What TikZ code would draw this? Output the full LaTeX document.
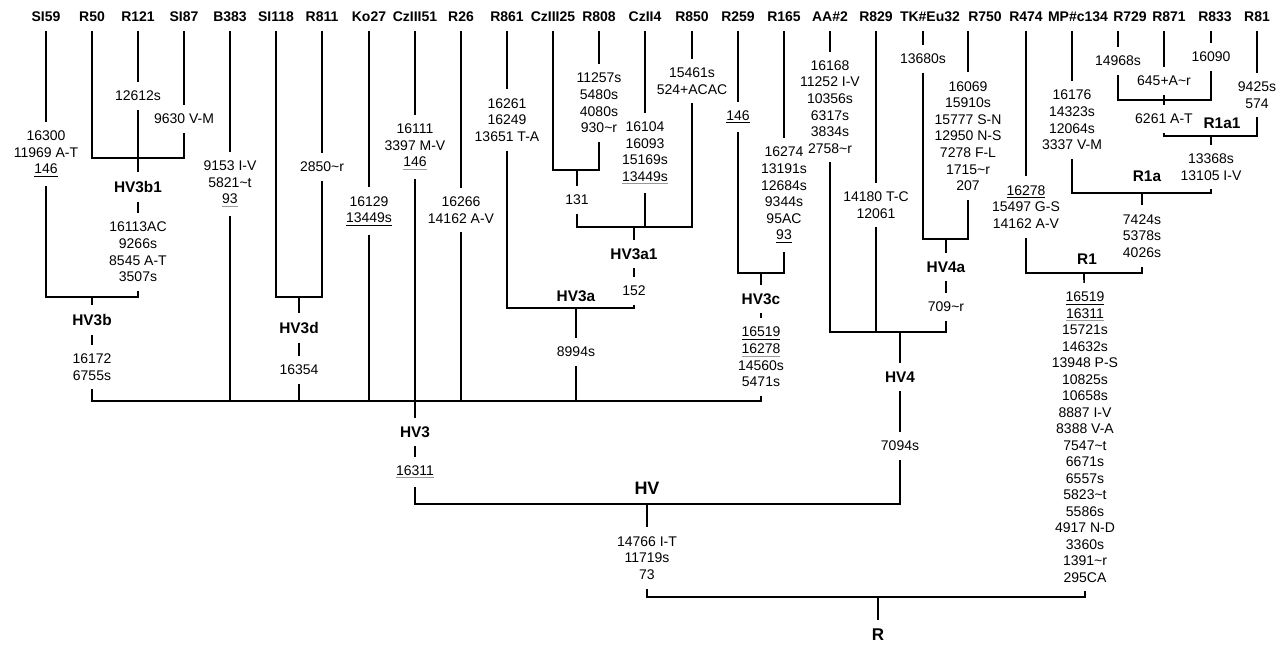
\documentclass[tikz,border=0pt]{standalone}
\usepackage{fontspec}
\setmainfont{Liberation Sans}
\usetikzlibrary{calc}
\newsavebox{\ulbox}
\newcommand{\ul}[2][black]{\sbox{\ulbox}{#2}\rlap{\textcolor{#1}{\rule[-1.5pt]{\wd\ulbox}{0.5pt}}}\usebox{\ulbox}}
\newcommand{\tl}{\textasciitilde}

\begin{document}
\begin{tikzpicture}[x=0.5pt,y=-0.5pt,line width=0.8pt,
  every node/.style={inner sep=2pt,outer sep=2.5pt},
  leaf/.style={font=\bfseries\fontsize{7}{8}\selectfont},
  clade/.style={font=\bfseries\fontsize{7.7}{9}\selectfont},
  mut/.style={align=center,font=\fontsize{7}{8.3}\selectfont}]
 \useasboundingbox (0,0) rectangle (1287,644);
 % sample names
 \node[leaf] (SI59) at (46,17) {SI59};
 \node[leaf] (R50) at (92,17) {R50};
 \node[leaf] (R121) at (138,17) {R121};
 \node[leaf] (SI87) at (184,17) {SI87};
 \node[leaf] (B383) at (230,17) {B383};
 \node[leaf] (SI118) at (276,17) {SI118};
 \node[leaf] (R811) at (322,17) {R811};
 \node[leaf] (Ko27) at (369,17) {Ko27};
 \node[leaf] (CzIII51) at (415,17) {CzIII51};
 \node[leaf] (R26) at (461,17) {R26};
 \node[leaf] (R861) at (507,17) {R861};
 \node[leaf] (CzIII25) at (553,17) {CzIII25};
 \node[leaf] (R808) at (599,17) {R808};
 \node[leaf] (CzII4) at (645,17) {CzII4};
 \node[leaf] (R850) at (692,17) {R850};
 \node[leaf] (R259) at (738,17) {R259};
 \node[leaf] (R165) at (784,17) {R165};
 \node[leaf] (AA2) at (830,17) {AA\#2};
 \node[leaf] (R829) at (876,17) {R829};
 \node[leaf] (TKEu32) at (930,17) {TK\#Eu32};
 \node[leaf] (R750) at (985,17) {R750};
 \node[leaf] (R474) at (1026,17) {R474};
 \node[leaf] (MPc134) at (1078,17) {MP\#c134};
 \node[leaf] (R729) at (1130,17) {R729};
 \node[leaf] (R871) at (1169,17) {R871};
 \node[leaf] (R833) at (1215,17) {R833};
 \node[leaf] (R81) at (1257,17) {R81};
 % branch points
 \coordinate (jHV3b1) at (138,158);
 \coordinate (jHV3b) at (92,297);
 \coordinate (jHV3d) at (299,297);
 \coordinate (j131) at (577,170);
 \coordinate (jHV3a1) at (634,227);
 \coordinate (jHV3a) at (576,308);
 \coordinate (jHV3c) at (761,273);
 \coordinate (jHV3) at (415,401);
 \coordinate (jHV4a) at (946,239);
 \coordinate (jHV4) at (900,332);
 \coordinate (jR871) at (1164,100);
 \coordinate (jR1a1) at (1211,136);
 \coordinate (jR1a) at (1142,193);
 \coordinate (jR1) at (1084,273);
 \coordinate (jHV) at (647,504);
 \coordinate (jR) at (878,597);
 % mutations and clade names
 \node[mut] (mSI59) at (46,154) {16300\\11969 A-T\\\ul{146}};
 \node[mut] (mR121) at (138,96) {12612s};
 \node[mut] (mSI87) at (184,119) {9630 V-M};
 \node[clade] (HV3b1) at (138,187) {HV3b1};
 \node[mut] (mHV3b1) at (138,252) {16113AC\\9266s\\8545 A-T\\3507s};
 \node[clade] (HV3b) at (92,320) {HV3b};
 \node[mut] (mHV3b) at (92,367) {16172\\6755s};
 \node[mut] (mB383) at (230,184) {9153 I-V\\5821\tl t\\\ul[black!40]{93}};
 \node[mut] (mR811) at (322,167) {2850\tl r};
 \node[clade] (HV3d) at (299,328) {HV3d};
 \node[mut] (mHV3d) at (299,370) {16354};
 \node[mut] (mKo27) at (369,211) {16129\\\ul{13449s}};
 \node[mut] (mCzIII51) at (415,147) {16111\\3397 M-V\\\ul[black!40]{146}};
 \node[clade] (HV3) at (415,432) {HV3};
 \node[mut] (mHV3) at (415,472) {\ul[black!40]{16311}};
 \node[mut] (mR26) at (461,210) {16266\\14162 A-V};
 \node[mut] (mR861) at (507,120) {16261\\16249\\13651 T-A};
 \node[mut] (mR808) at (599,103) {11257s\\5480s\\4080s\\930\tl r};
 \node[mut] (m131) at (577,200) {131};
 \node[mut] (mCzII4) at (645,153) {16104\\16093\\15169s\\\ul[black!40]{13449s}};
 \node[mut] (mR850) at (692,81) {15461s\\524+ACAC};
 \node[clade] (HV3a1) at (634,254) {HV3a1};
 \node[mut] (m152) at (634,291) {152};
 \node[clade] (HV3a) at (576,296) {HV3a};
 \node[mut] (mHV3a) at (576,352) {8994s};
 \node[mut] (mR259) at (738,117) {\ul{146}};
 \node[mut] (mR165) at (784,195) {16274\\13191s\\12684s\\9344s\\95AC\\\ul{93}};
 \node[clade] (HV3c) at (761,299) {HV3c};
 \node[mut] (mHV3c) at (761,357) {\ul{16519}\\\ul[black!40]{16278}\\14560s\\5471s};
 \node[mut] (mAA2) at (830,107) {16168\\11252 I-V\\10356s\\6317s\\3834s\\2758\tl r};
 \node[mut] (mR829) at (876,205) {14180 T-C\\12061};
 \node[mut] (mTKEu32) at (923,59) {13680s};
 \node[mut] (mR750) at (968,136) {16069\\15910s\\15777 S-N\\12950 N-S\\7278 F-L\\1715\tl r\\207};
 \node[clade] (HV4a) at (946,267) {HV4a};
 \node[mut] (mHV4a) at (946,307) {709\tl r};
 \node[clade] (HV4) at (900,377) {HV4};
 \node[mut] (mHV4) at (900,446) {7094s};
 \node[clade,font=\bfseries\fontsize{9}{10}\selectfont] (HV) at (647,488) {HV};
 \node[mut] (mHV) at (647,558) {14766 I-T\\11719s\\73};
 \node[mut] (mR474) at (1026,207) {\ul{16278}\\15497 G-S\\14162 A-V};
 \node[mut] (mMPc134) at (1072,120) {16176\\14323s\\12064s\\3337 V-M};
 \node[mut] (mR729) at (1118,61) {14968s};
 \node[mut] (mR871) at (1164,81) {645+A\tl r};
 \node[mut] (mR833) at (1211,57) {16090};
 \node[mut] (m6261) at (1164,119) {6261 A-T};
 \node[mut] (mR81) at (1257,95) {9425s\\574};
 \node[clade] (R1a1) at (1222,123) {R1a1};
 \node[mut] (mR1a1) at (1211,167) {13368s\\13105 I-V};
 \node[clade] (R1a) at (1147,176) {R1a};
 \node[mut] (mR1a) at (1142,236) {7424s\\5378s\\4026s};
 \node[clade] (R1) at (1087,259) {R1};
 \node[mut,font=\fontsize{7}{8.25}\selectfont] (mR1) at (1085,437)
   {\ul{16519}\\\ul[black!40]{16311}\\15721s\\14632s\\13948 P-S\\10825s\\10658s\\8887 I-V\\8388 V-A\\7547\tl t\\6671s\\6557s\\5823\tl t\\5586s\\4917 N-D\\3360s\\1391\tl r\\295CA};
 \node[clade,font=\bfseries\fontsize{8.5}{10}\selectfont] (R) at (878,635) {R};
 % HV3b
 \draw (SI59) -- (mSI59);
 \draw (R50) |- (jHV3b1) -| (mSI87);
 \draw (SI87) -- (mSI87);
 \draw (R121) -- (mR121);
 \draw (mR121) -- (HV3b1);
 \draw (HV3b1) -- (mHV3b1);
 \draw (mSI59) |- (jHV3b) -| (mHV3b1);
 \draw (jHV3b) -- (HV3b);
 \draw (HV3b) -- (mHV3b);
 % HV3d
 \draw (SI118) |- (jHV3d) -| (mR811);
 \draw (R811) -- (mR811);
 \draw (jHV3d) -- (HV3d);
 \draw (HV3d) -- (mHV3d);
 \draw (mHV3d) -- (mHV3d |- jHV3);
 % HV3a
 \draw (CzIII25) |- (j131) -| (mR808);
 \draw (R808) -- (mR808);
 \draw (j131) -- (m131);
 \draw (m131) |- (jHV3a1) -| (mR850);
 \draw (R850) -- (mR850);
 \draw (CzII4) -- (mCzII4);
 \draw (mCzII4) -- (mCzII4 |- jHV3a1);
 \draw (jHV3a1) -- (HV3a1);
 \draw (HV3a1) -- (m152);
 \draw (R861) -- (mR861);
 \draw (mR861) |- (jHV3a) -| (m152);
 \draw (jHV3a) -- (mHV3a);
 \draw (mHV3a) -- (mHV3a |- jHV3);
 % HV3c
 \draw (R259) -- (mR259);
 \draw (R165) -- (mR165);
 \draw (mR259) |- (jHV3c) -| (mR165);
 \draw (jHV3c) -- (HV3c);
 \draw (HV3c) -- (mHV3c);
 % HV3
 \draw (mHV3b) |- (jHV3) -| (mHV3c);
 \draw (B383) -- (mB383);
 \draw (mB383) -- (mB383 |- jHV3);
 \draw (Ko27) -- (mKo27);
 \draw (mKo27) -- (mKo27 |- jHV3);
 \draw (R26) -- (mR26);
 \draw (mR26) -- (mR26 |- jHV3);
 \draw (CzIII51) -- (mCzIII51);
 \draw (mCzIII51) -- (HV3);
 \draw (HV3) -- (mHV3);
 % HV4
 \draw (AA2) -- (mAA2);
 \draw (R829) -- (mR829);
 \draw (mR829) -- (mR829 |- jHV4);
 \draw (TKEu32.south -| mTKEu32) -- (mTKEu32);
 \draw (R750.south -| mR750) -- (mR750);
 \draw (mTKEu32) |- (jHV4a) -| (mR750);
 \draw (jHV4a) -- (HV4a);
 \draw (HV4a) -- (mHV4a);
 \draw (mAA2) |- (jHV4) -| (mHV4a);
 \draw (jHV4) -- (HV4);
 \draw (HV4) -- (mHV4);
 % HV
 \draw (mHV3) |- (jHV) -| (mHV4);
 \draw (jHV) -- (mHV);
 % R1
 \draw (R729.south -| mR729) -- (mR729);
 \draw (R871.south -| mR871) -- (mR871);
 \draw (R833.south -| mR833) -- (mR833);
 \draw (mR729) |- (jR871) -| (mR833);
 \draw (mR871) -- (m6261);
 \draw (R81) -- (mR81);
 \draw (m6261) |- (jR1a1) -| (mR81);
 \draw (jR1a1) -- (mR1a1);
 \draw (MPc134.south -| mMPc134) -- (mMPc134);
 \draw (mMPc134) |- (jR1a) -| (mR1a1);
 \draw (jR1a) -- (mR1a);
 \draw (R474) -- (mR474);
 \draw (mR474) |- (jR1) -| (mR1a);
 \draw (jR1) -- (mR1);
 % R
 \draw (mHV) |- (jR) -| (mR1);
 \draw (jR) -- (R);
\end{tikzpicture}
\end{document}
